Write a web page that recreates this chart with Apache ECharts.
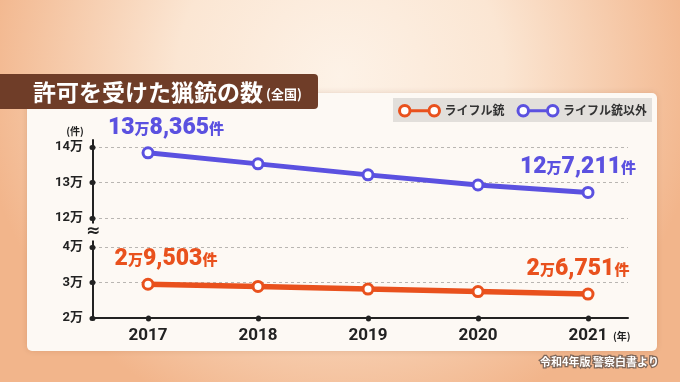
<!DOCTYPE html>
<html><head><meta charset="utf-8">
<script src="https://cdn.jsdelivr.net/npm/echarts@6/dist/echarts.min.js"></script>
<style>html,body{margin:0;padding:0;background:#f6d3b6}#c{width:680px;height:382px}</style>
</head><body><div id="c"></div>
<script>
const years = [2017, 2018, 2019, 2020, 2021];
const rifles = [29503, 28900, 28150, 27450, 26751];
const otherGuns = [138365, 135250, 132150, 129300, 127211];
const upperTicks = [120000, 130000, 140000];
const lowerTicks = [20000, 30000, 40000];
const seriesNames = ['ライフル銃', 'ライフル銃以外'];

const ORANGE = '#e9511d';
const BLUE = '#5b51e0';
const INK = '#222';
const JP = "Roboto, 'Noto Sans CJK JP', sans-serif";

function fmt(v) {
  const man = Math.floor(v / 10000);
  const rest = (v % 10000).toLocaleString('en-US');
  return man + '{u|万}' + rest + '{u|件}';
}
function makeData(vals) {
  return years.map((y, i) => {
    const edge = i === 0 || i === vals.length - 1;
    return {
      value: [y, vals[i]],
      label: { show: edge, offset: i === 0 ? [18, -1] : [-10, -1] }
    };
  });
}
function labelStyle(color) {
  return {
    position: 'top', distance: 6,
    formatter: p => fmt(p.value[1]),
    color: color, fontSize: 23, fontWeight: 900, fontFamily: JP,
    rich: { u: { fontSize: 15, fontWeight: 900, color: color, fontFamily: "'Noto Sans CJK JP'" } }
  };
}
const legendIcon = 'path://M1,6a5,5 0 1,0 10,0a5,5 0 1,0 -10,0Z M11,6L29,6 M29,6a5,5 0 1,0 10,0a5,5 0 1,0 -10,0Z';

const xMin = 2016.5, xMax = 2016.5 + 535 / 110;
const yAxisCommon = {
  axisLine: { show: true, lineStyle: { color: INK, width: 2 } },
  axisTick: { show: true, length: 1, lineStyle: { color: INK, width: 5, cap: 'round' } },
  axisLabel: { color: INK, fontSize: 13, fontWeight: 'bold', fontFamily: JP, margin: 10, formatter: v => (v / 10000) + '万' },
  splitLine: { show: true, lineStyle: { color: '#b9b6b2', type: [3, 3], width: 1 } }
};

const chart = echarts.init(document.getElementById('c'), null, { renderer: 'canvas' });
chart.setOption({
  animation: false,
  graphic: [
    { type: 'rect', z: -100, shape: { x: 0, y: 0, width: 680, height: 382 },
      style: { fill: { type: 'radial', x: 0.5, y: 0.2, r: 0.95, colorStops: [
        { offset: 0, color: '#fdf2e7' }, { offset: 0.45, color: '#fbe6d3' }, { offset: 1, color: '#f2b58b' }] } } },
    { type: 'rect', z: -90, shape: { x: 27, y: 93, width: 630, height: 258, r: 5 },
      style: { fill: '#fdf9f4', shadowBlur: 6, shadowColor: 'rgba(120,60,20,0.18)' } },
    { type: 'rect', z: -80, shape: { x: -6, y: 74, width: 324, height: 35, r: 4 },
      style: { fill: '#6f3d28' } },
    { type: 'text', z: -70, x: 33, y: 92,
      style: { text: '許可を受けた猟銃の数', fill: '#fff', font: "bold 23px 'Noto Sans CJK JP'", verticalAlign: 'middle' } },
    { type: 'text', z: -70, x: 266, y: 94,
      style: { text: '(全国)', fill: '#fff', font: "bold 13px 'Noto Sans CJK JP'", verticalAlign: 'middle' } },
    { type: 'rect', z: -80, shape: { x: 393, y: 98, width: 259, height: 24 },
      style: { fill: '#e2dfdb' } },
    { type: 'text', z: 50, x: 93, y: 232,
      style: { text: '≈', fill: INK, font: "bold 17px 'DejaVu Sans'", align: 'center', verticalAlign: 'middle',
        backgroundColor: '#fdf9f4', padding: [0, 0] } },
    { type: 'text', z: 10, x: 75, y: 131,
      style: { text: '(件)', fill: INK, font: "bold 10px 'Noto Sans CJK JP'", align: 'center', verticalAlign: 'middle' } },
    { type: 'text', z: 10, x: 613, y: 336,
      style: { text: '(年)', fill: INK, font: "bold 10px 'Noto Sans CJK JP'", verticalAlign: 'middle' } },
    { type: 'text', z: 10, x: 659, y: 362,
      style: { text: '令和4年版 警察白書より', fill: '#fff', font: "bold 11px 'Noto Sans CJK JP'", align: 'right', verticalAlign: 'middle',
        stroke: '#7d6659', lineWidth: 2.5 } }
  ],
  legend: {
    left: 393, top: 98, padding: [6, 0, 6, 5], itemGap: 12, itemWidth: 40, itemHeight: 12,
    textStyle: { fontSize: 12, fontWeight: 'bold', color: '#333', fontFamily: "'Noto Sans CJK JP'" },
    data: [
      { name: seriesNames[0], icon: legendIcon, itemStyle: { color: '#fff', borderColor: ORANGE, borderWidth: 3 } },
      { name: seriesNames[1], icon: legendIcon, itemStyle: { color: '#fff', borderColor: BLUE, borderWidth: 3 } }
    ]
  },
  grid: [
    { left: 93, width: 535, top: 140, height: 92 },
    { left: 93, width: 535, top: 232, height: 86 }
  ],
  xAxis: [
    { type: 'value', gridIndex: 0, min: xMin, max: xMax, show: false, splitLine: { show: false } },
    { type: 'value', gridIndex: 1, min: xMin, max: xMax,
      axisLine: { show: true, lineStyle: { color: INK, width: 2 } },
      axisTick: { show: true, customValues: years, length: 1, lineStyle: { color: INK, width: 5, cap: 'round' } },
      axisLabel: { customValues: years, formatter: v => String(v), color: INK, fontSize: 17, fontWeight: 'bold', fontFamily: 'Roboto', margin: 9 },
      splitLine: { show: false } }
  ],
  yAxis: [
    Object.assign({}, yAxisCommon, { type: 'value', gridIndex: 0, min: 116056, max: 141972,
      axisTick: Object.assign({}, yAxisCommon.axisTick, { customValues: upperTicks }),
      axisLabel: Object.assign({}, yAxisCommon.axisLabel, { customValues: upperTicks }) }),
    Object.assign({}, yAxisCommon, { type: 'value', gridIndex: 1, min: 20000, max: 44225,
      axisTick: Object.assign({}, yAxisCommon.axisTick, { customValues: lowerTicks }),
      axisLabel: Object.assign({}, yAxisCommon.axisLabel, { customValues: lowerTicks }) })
  ],
  series: [
    { name: seriesNames[1], type: 'line', xAxisIndex: 0, yAxisIndex: 0,
      data: makeData(otherGuns), color: BLUE,
      lineStyle: { color: BLUE, width: 5 },
      symbol: 'circle', symbolSize: 10, itemStyle: { color: '#fff', borderColor: BLUE, borderWidth: 3 },
      label: labelStyle(BLUE), z: 5 },
    { name: seriesNames[0], type: 'line', xAxisIndex: 1, yAxisIndex: 1,
      data: makeData(rifles), color: ORANGE,
      lineStyle: { color: ORANGE, width: 5.5 },
      symbol: 'circle', symbolSize: 10, itemStyle: { color: '#fff', borderColor: ORANGE, borderWidth: 3 },
      label: labelStyle(ORANGE), z: 5 }
  ]
});
</script></body></html>
